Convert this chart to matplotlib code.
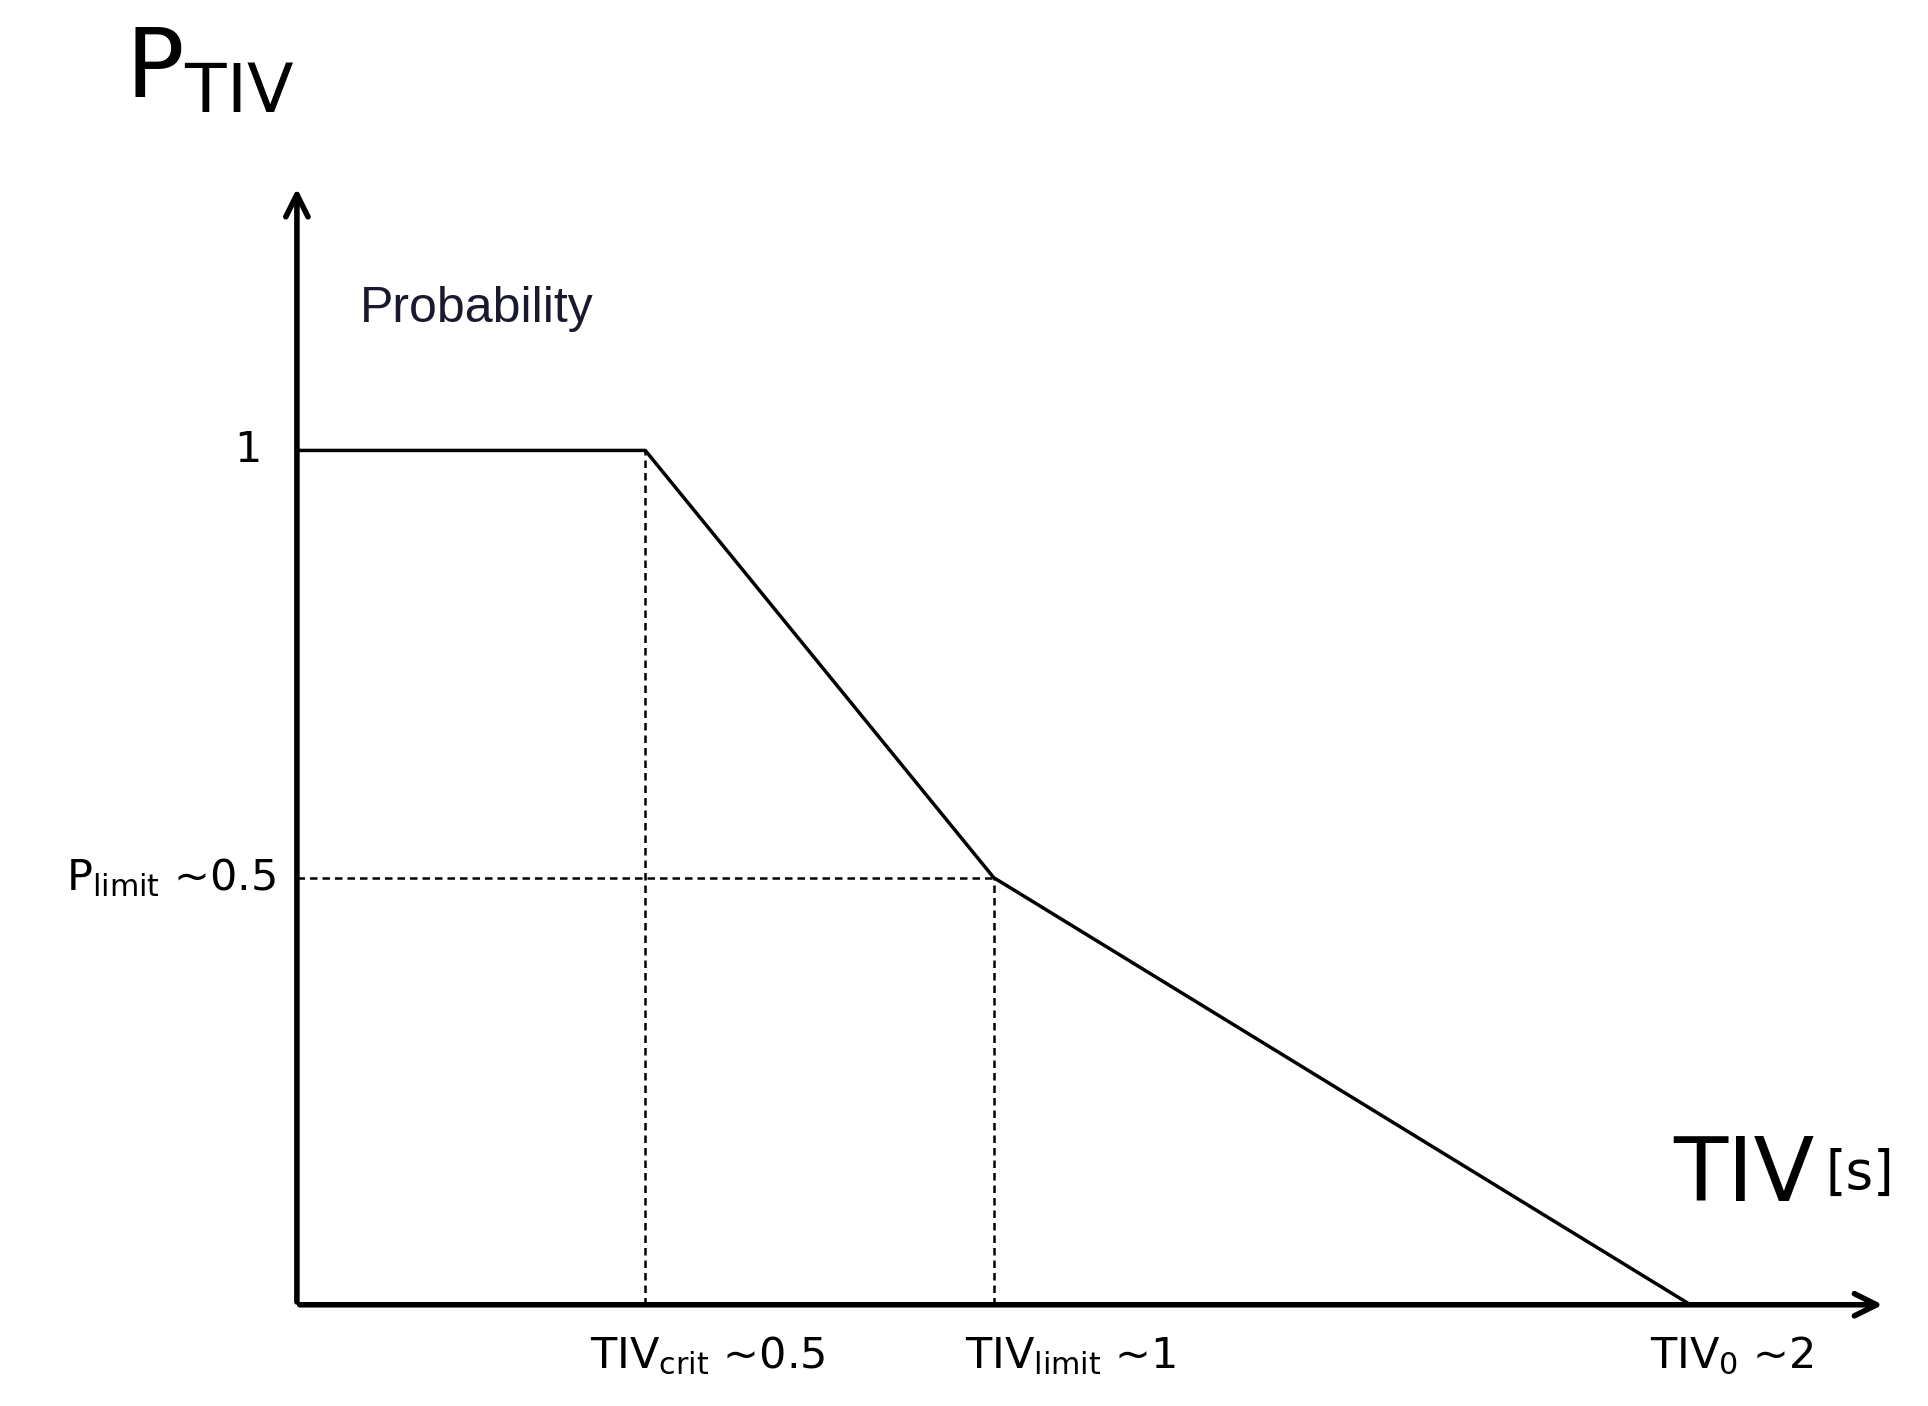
import matplotlib.pyplot as plt

# curve break points (TIV [s], probability)
tiv = [0.0, 0.5, 1.0, 2.0]
prob = [1.0, 1.0, 0.5, 0.0]

tiv_crit, tiv_limit, tiv_0 = 0.5, 1.0, 2.0
p_limit = 0.5

plt.rcParams['font.family'] = 'DejaVu Sans'
plt.rcParams['mathtext.fontset'] = 'dejavusans'

fig = plt.figure(figsize=(19.28, 14.06), dpi=100)
ax = fig.add_axes([0.154, 0.072, 0.824, 0.796])
ax.set_xlim(0, 2.28)
ax.set_ylim(0, 1.31)
ax.axis('off')

# axes with arrows
ax.annotate('', xy=(2.28, 0), xytext=(0, 0), xycoords='data',
            arrowprops=dict(arrowstyle='->', lw=4, color='black', mutation_scale=40),
            annotation_clip=False)
ax.annotate('', xy=(0, 1.31), xytext=(0, 0), xycoords='data',
            arrowprops=dict(arrowstyle='->', lw=4, color='black', mutation_scale=40),
            annotation_clip=False)

ax.plot(tiv, prob, color='black', lw=2.5)

# dashed guides
ax.plot([tiv_crit, tiv_crit], [0, 1], 'k--', lw=1.8, dashes=(3, 2))
ax.plot([tiv_limit, tiv_limit], [0, p_limit], 'k--', lw=1.8, dashes=(3, 2))
ax.plot([0, tiv_limit], [p_limit, p_limit], 'k--', lw=1.8, dashes=(3, 2))

fs = 31
ax.text(-0.05, 1.0, '1', ha='right', va='center', fontsize=fs)
ax.text(-0.03, p_limit, r'P$_{\mathregular{limit}}$ ~0.5', ha='right', va='center', fontsize=fs)
ax.text(tiv_crit + 0.09, -0.06, r'TIV$_{\mathregular{crit}}$ ~0.5', ha='center', va='center', fontsize=fs)
ax.text(tiv_limit + 0.11, -0.06, r'TIV$_{\mathregular{limit}}$ ~1', ha='center', va='center', fontsize=fs)
ax.text(tiv_0 + 0.06, -0.06, r'TIV$_{\mathregular{0}}$ ~2', ha='center', va='center', fontsize=fs)

ax.text(0.09, 1.165, 'Probability', ha='left', va='center', fontsize=36,
        family='Liberation Sans', color='#1a1a2e')

fig.text(0.065, 0.950, r'P$_{\mathregular{TIV}}$', ha='left', va='center', fontsize=70)
fig.text(0.868, 0.163, 'TIV', ha='left', va='center', fontsize=64)
fig.text(0.947, 0.165, '[s]', ha='left', va='center', fontsize=38)

fig.savefig('out.png', dpi=100, facecolor='white')
